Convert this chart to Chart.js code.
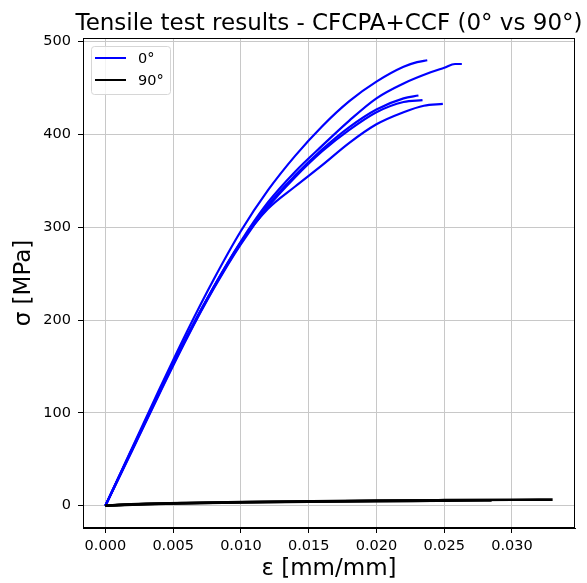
<!DOCTYPE html>
<html>
<head>
<meta charset="utf-8">
<script src="https://cdn.jsdelivr.net/npm/chart.js@4.4.1/dist/chart.umd.min.js"></script>
<style>
  html, body { margin: 0; padding: 0; background: #fff; }
</style>
</head>
<body>
<canvas id="chart" width="587" height="583"></canvas>
<script>
const titleText = "Tensile test results - CFCPA+CCF (0° vs 90°)";
const xTicks = [0, 0.005, 0.010, 0.015, 0.020, 0.025, 0.030];
const xTickLabels = ["0.000", "0.005", "0.010", "0.015", "0.020", "0.025", "0.030"];
const yTicks = [0, 100, 200, 300, 400, 500];
const yTickLabels = ["0", "100", "200", "300", "400", "500"];

// 0° specimens (strain, stress MPa)
const eps0a = [0, 0.002, 0.004, 0.006, 0.008, 0.010, 0.012, 0.014, 0.016, 0.018, 0.020, 0.022, 0.023, 0.02375];
const sig0a = [0, 63, 126, 187, 244, 296, 340, 377, 409, 436, 457, 473, 478, 480];
const eps0b = [0, 0.002, 0.004, 0.006, 0.008, 0.010, 0.012, 0.014, 0.016, 0.018, 0.020, 0.022, 0.024, 0.025, 0.0258, 0.0263];
const sig0b = [0, 62, 123, 182, 236, 285, 327, 360, 388, 415, 439, 455, 467, 472, 476, 476];
const eps0c = [0, 0.002, 0.004, 0.006, 0.008, 0.010, 0.012, 0.014, 0.016, 0.018, 0.020, 0.022, 0.0231];
const sig0c = [0, 61, 122, 181, 235, 283, 324, 356, 384, 408, 427, 439, 442];
const eps0d = [0, 0.002, 0.004, 0.006, 0.008, 0.010, 0.012, 0.014, 0.016, 0.018, 0.020, 0.022, 0.0234];
const sig0d = [0, 60, 121, 180, 234, 282, 322, 354, 382, 405, 424, 435, 437];
const eps0e = [0, 0.002, 0.004, 0.006, 0.008, 0.010, 0.012, 0.014, 0.016, 0.018, 0.020, 0.022, 0.0235, 0.0249];
const sig0e = [0, 62, 123, 182, 236, 284, 320, 344, 367, 391, 411, 424, 431, 433];

// 90° specimens
const eps90a = [0, 0.001, 0.003, 0.006, 0.010, 0.015, 0.020, 0.025, 0.030, 0.033];
const sig90a = [0, 0.9, 2.0, 3.0, 4.0, 4.8, 5.5, 6.0, 6.4, 6.6];
const eps90b = [0, 0.001, 0.003, 0.006, 0.010, 0.015, 0.020, 0.025, 0.0285];
const sig90b = [0, 0.8, 1.8, 2.8, 3.7, 4.5, 5.1, 5.5, 5.7];
const eps90c = [0, 0.001, 0.003, 0.006, 0.010, 0.015, 0.020, 0.024];
const sig90c = [0, 0.7, 1.7, 2.7, 3.6, 4.4, 5.0, 5.4];

const blue = "#0000ff";
const black = "#000000";
const font = "'DejaVu Sans', sans-serif";

function curve(label, eps, sig, color, width, order) {
  return {
    label: label,
    data: eps.map((e, i) => ({ x: e, y: sig[i] })),
    borderColor: color,
    backgroundColor: color,
    borderWidth: width,
    pointRadius: 0,
    showLine: true,
    cubicInterpolationMode: "monotone",
    order: order,
  };
}

const datasets = [
  curve("0°", eps0a, sig0a, blue, 2.2, 2),
  curve("", eps0b, sig0b, blue, 2.2, 2),
  curve("", eps0c, sig0c, blue, 2.2, 2),
  curve("", eps0d, sig0d, blue, 2.2, 2),
  curve("", eps0e, sig0e, blue, 2.2, 2),
  curve("90°", eps90a, sig90a, black, 2.6, 1),
  curve("", eps90b, sig90b, black, 2.6, 1),
  curve("", eps90c, sig90c, black, 2.6, 1),
];

const extras = {
  id: "extras",
  afterDraw(chart) {
    const { ctx, chartArea: a } = chart;
    ctx.save();
    // spines
    ctx.strokeStyle = "#000";
    ctx.lineWidth = 1;
    ctx.strokeRect(Math.round(a.left) + 0.5, Math.round(a.top) + 0.5,
      Math.round(a.right - a.left) - 1, Math.round(a.bottom - a.top) - 1);
    // title
    ctx.fillStyle = "#000";
    ctx.font = "23px " + font;
    ctx.textAlign = "center";
    ctx.textBaseline = "alphabetic";
    ctx.fillText(titleText, (a.left + a.right) / 2, 30);
    // legend
    const items = chart.data.datasets.filter(d => d.label);
    const bx = a.left + 8, by = a.top + 8;
    ctx.beginPath();
    ctx.roundRect(bx + 0.5, by + 0.5, 79, 48, 3);
    ctx.fillStyle = "rgba(255,255,255,0.8)";
    ctx.fill();
    ctx.strokeStyle = "#d6d6d6";
    ctx.stroke();
    ctx.font = "14.5px " + font;
    ctx.textAlign = "left";
    ctx.textBaseline = "middle";
    items.forEach((d, i) => {
      const y = by + 12 + i * 22;
      ctx.strokeStyle = d.borderColor;
      ctx.lineWidth = 2;
      ctx.beginPath();
      ctx.moveTo(bx + 4, y);
      ctx.lineTo(bx + 35, y);
      ctx.stroke();
      ctx.fillStyle = "#000";
      ctx.fillText(d.label, bx + 47, y + 1);
    });
    ctx.restore();
  },
};

new Chart(document.getElementById("chart").getContext("2d"), {
  type: "scatter",
  data: { datasets: datasets },
  options: {
    responsive: false,
    animation: false,
    layout: { padding: { top: 38, right: 12, bottom: 0, left: 0 } },
    plugins: { legend: { display: false }, tooltip: { enabled: false } },
    scales: {
      x: {
        type: "linear",
        min: -0.00165,
        max: 0.03465,
        afterBuildTicks: s => { s.ticks = xTicks.map(v => ({ value: v })); },
        afterFit: s => { s.height = 55; },
        ticks: {
          callback: (v, i) => xTickLabels[i],
          autoSkip: false,
          maxRotation: 0,
          padding: 5,
          color: "#000",
          font: { family: font, size: 14.5 },
        },
        grid: { color: "#c8c8c8", lineWidth: 1, tickLength: 5, tickColor: "#000" },
        border: { display: true, color: "#000", width: 1 },
        title: {
          display: true,
          text: "ε [mm/mm]",
          color: "#000",
          font: { family: font, size: 23 },
          padding: { top: 0, bottom: 0 },
        },
      },
      y: {
        type: "linear",
        min: -24,
        max: 504,
        afterBuildTicks: s => { s.ticks = yTicks.map(v => ({ value: v })); },
        afterFit: s => { s.width = 83; },
        ticks: {
          callback: (v, i) => yTickLabels[i],
          padding: 7,
          color: "#000",
          font: { family: font, size: 14.5 },
        },
        grid: { color: "#c8c8c8", lineWidth: 1, tickLength: 5, tickColor: "#000" },
        border: { display: true, color: "#000", width: 1 },
        title: {
          display: true,
          text: "σ [MPa]",
          color: "#000",
          font: { family: font, size: 23 },
          padding: { top: 10, bottom: 0 },
        },
      },
    },
  },
  plugins: [extras],
});
</script>
</body>
</html>
